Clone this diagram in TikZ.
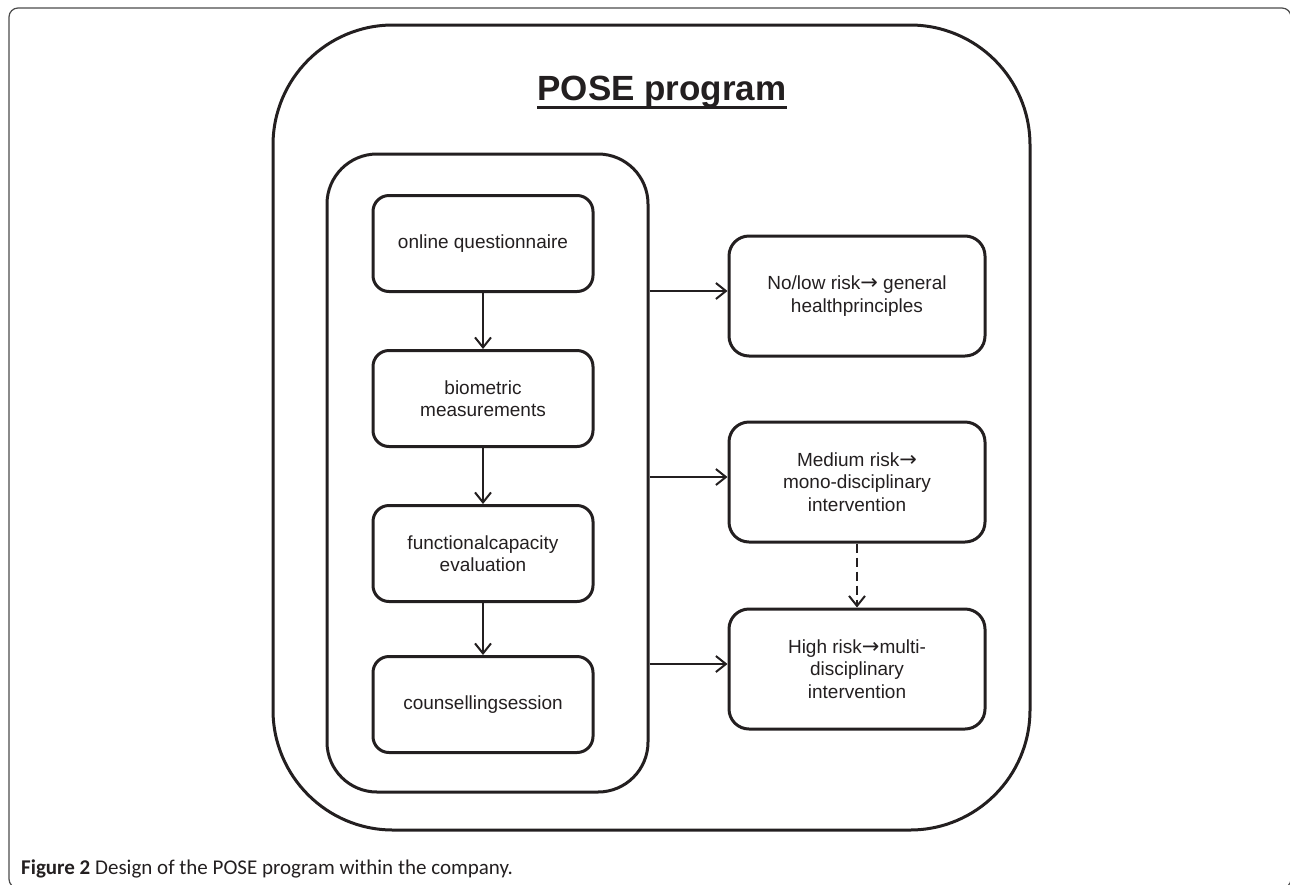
\documentclass[tikz,border=0pt]{standalone}
\usepackage{fontspec}
\setmainfont{Liberation Sans}
\newfontfamily\capfont{Carlito}
\newfontfamily\symfont{DejaVu Sans}
\usepackage{tikz}
\usetikzlibrary{calc,positioning,arrows.meta}
\definecolor{inkc}{RGB}{35,31,32}
\definecolor{framec}{RGB}{75,75,75}
\colorlet{ink}{inkc}
\colorlet{framecolor}{framec}
\newcommand{\riskto}{{\symfont\fontsize{21}{22.5}\selectfont →}}% arrow inside the risk boxes
\tikzstyle{stepbox} = [
    draw=ink,
    line width=3pt,
    rounded corners=16pt,
    minimum width=220pt,
    minimum height=96pt,
    align=center,
    text=ink,
    font=\fontsize{19}{22.5}\selectfont
    ]
\tikzstyle{riskbox} = [
    stepbox,
    rounded corners=20pt,
    minimum width=256pt,
    minimum height=120pt
    ]
\tikzstyle{groupbox} = [
    draw=ink,
    line width=3pt,
    rounded corners=50pt,
    minimum width=321pt,
    minimum height=638pt
    ]
\tikzstyle{programbox} = [
    draw=ink,
    line width=3pt,
    rounded corners=120pt,
    minimum width=757pt,
    minimum height=805pt
    ]
\tikzstyle{flow} = [
    draw=ink,
    line width=2pt,
    -{Straight Barb[length=10pt,width=16pt,line width=2pt]}
    ]

\begin{document}
\begin{tikzpicture}[x=1pt,y=-1pt]
\useasboundingbox (0,0) rectangle (1290,884);
\draw[framecolor, line width=1.2pt, rounded corners=9pt] (9,8) rectangle (1291,888);

\node[programbox] (program) at (651.5,427.5) {};
\node[anchor=base, inner sep=0, text=ink, font=\bfseries\fontsize{35}{40}\selectfont] (title) at (662,100) {POSE program};
\draw[ink, line width=3pt] ($(title.base west)+(0,7)$) -- ($(title.base east)+(0,7)$);

% steps of the program
\node[groupbox] (group) at (487.5,473) {};
\node[stepbox] (quest) at (483,243.5) {online questionnaire};
\node[stepbox, below=56pt of quest] (bio) {biometric\\measurements};
\node[stepbox, below=56pt of bio] (fce) {functionalcapacity\\evaluation};
\node[stepbox, below=52pt of fce] (couns) {counsellingsession};

\draw[flow] (quest) -- (bio);
\draw[flow] (bio) -- (fce);
\draw[flow] (fce) -- (couns);

% outcome by risk
\node[riskbox] (low) at (857,296) {No/low risk\riskto{} general\\healthprinciples};
\node[riskbox, below=63pt of low] (medium) {Medium risk\riskto\\mono-disciplinary\\intervention};
\node[riskbox, below=64pt of medium] (high) {High risk\riskto multi-\\disciplinary\\intervention};

\draw[flow] ([yshift=5pt]group.east |- low.west) -- ([yshift=5pt]low.west);
\draw[flow] ([yshift=5pt]group.east |- medium.west) -- ([yshift=5pt]medium.west);
\draw[flow] ([yshift=5pt]group.east |- high.west) -- ([yshift=5pt]high.west);
\draw[flow, dash pattern=on 9pt off 5pt] (medium) -- (high);

\node[anchor=base west, inner sep=0, text=ink, font=\capfont\fontsize{21}{24}\selectfont] (caption) at (21,874) {\textbf{Figure 2} Design of the POSE program within the company.};
\end{tikzpicture}
\end{document}
